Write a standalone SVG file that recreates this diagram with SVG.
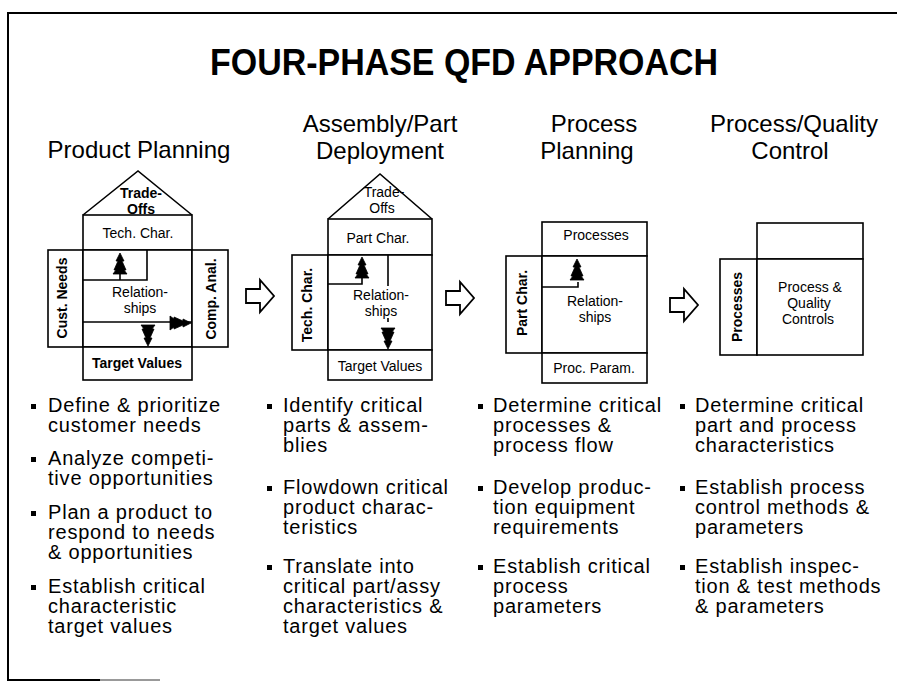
<svg xmlns="http://www.w3.org/2000/svg" width="897" height="685" viewBox="0 0 897 685">
<style>
.ln{fill:none;stroke:#000;stroke-width:1.6}
.bx{fill:#fff;stroke:#000;stroke-width:1.6}
.ar{fill:#000;stroke:#000;stroke-width:0.8;stroke-linejoin:miter}
.ha{fill:#fff;stroke:#000;stroke-width:1.8;stroke-linejoin:miter}
.lb{font-family:"Liberation Sans",Arial,sans-serif;font-size:14px;fill:#000;text-anchor:middle}
.lbb{font-family:"Liberation Sans",Arial,sans-serif;font-size:14px;font-weight:bold;fill:#000;text-anchor:middle}
.hd{font-family:"Liberation Sans",Arial,sans-serif;font-size:24px;fill:#000;text-anchor:middle}
.tt{font-family:"Liberation Sans",Arial,sans-serif;font-size:36px;font-weight:bold;fill:#000}
.bu{font-family:"Liberation Sans",Arial,sans-serif;font-size:20px;letter-spacing:0.8px;fill:#000}
</style>
<defs>
<path id="up" d="M0,0 L-4,8 L-2,8 L-6,17 L-4,17 L-7,21 L7,21 L4,17 L6,17 L2,8 L4,8 Z"/>
<path id="hollow" d="M0,-7 L14,-7 L14,-16 L28,0 L14,16 L14,7 L0,7 Z"/>
</defs>
<rect width="897" height="685" fill="#fff"/>
<g id="frame">
<line x1="7" y1="13" x2="897" y2="13" stroke="#000" stroke-width="2"/>
<line x1="8" y1="13" x2="8" y2="681" stroke="#000" stroke-width="2"/>
<line x1="8" y1="680" x2="100" y2="680" stroke="#000" stroke-width="2"/>
<line x1="100" y1="680" x2="160" y2="680" stroke="#999" stroke-width="2"/>
</g>
<g id="title"><text class="tt" x="210" y="75" textLength="508" lengthAdjust="spacingAndGlyphs">FOUR-PHASE QFD APPROACH</text></g>
<g id="headers">
<text class="hd" x="139" y="158">Product Planning</text>
<text class="hd" x="380" y="132">Assembly/Part</text>
<text class="hd" x="380" y="159">Deployment</text>
<text class="hd" x="594" y="132">Process</text>
<text class="hd" x="587" y="159">Planning</text>
<text class="hd" x="794" y="132">Process/Quality</text>
<text class="hd" x="790" y="159">Control</text>
</g>
<g id="house1">
<polyline class="ln" points="83,215 138,171 192,215"/>
<rect class="bx" x="83" y="215" width="109" height="35"/>
<rect class="bx" x="48" y="250" width="35" height="97"/>
<rect class="bx" x="83" y="250" width="109" height="97"/>
<rect class="bx" x="192" y="250" width="36" height="97"/>
<rect class="bx" x="83" y="347" width="109" height="33"/>
<line class="ln" x1="83" y1="322" x2="192" y2="322"/>
<polyline class="ln" points="83,280 147,280 147,250"/>
<line class="ln" x1="120" y1="270" x2="120" y2="280"/>
<use href="#up" class="ar" transform="translate(120,253)"/>
<use href="#up" class="ar" transform="translate(148,346) rotate(180)"/>
<use href="#up" class="ar" transform="translate(191,323) rotate(90)"/>
<text class="lbb" x="141" y="198">Trade-</text>
<text class="lbb" x="141" y="214">Offs</text>
<text class="lb" x="138" y="238">Tech. Char.</text>
<text class="lb" x="140" y="297">Relation-</text>
<text class="lb" x="140" y="313">ships</text>
<text class="lbb" x="137" y="368">Target Values</text>
<text class="lbb" transform="translate(67,298) rotate(-90)">Cust. Needs</text>
<text class="lbb" transform="translate(216,299) rotate(-90)">Comp. Anal.</text>
</g>
<g id="house2">
<polyline class="ln" points="328,219 380,174 432,219"/>
<rect class="bx" x="328" y="219" width="104" height="36"/>
<rect class="bx" x="292" y="255" width="36" height="95"/>
<rect class="bx" x="328" y="255" width="104" height="95"/>
<rect class="bx" x="328" y="350" width="104" height="30"/>
<line class="ln" x1="388" y1="255" x2="388" y2="286"/>
<line class="ln" x1="388" y1="318" x2="388" y2="322"/>
<polyline class="ln" points="328,284 362,284 362,276"/>
<use href="#up" class="ar" transform="translate(362,257)"/>
<use href="#up" class="ar" transform="translate(388,349) rotate(180)"/>
<text class="lb" x="384" y="197">Trade-</text>
<text class="lb" x="382" y="213">Offs</text>
<text class="lb" x="378" y="243">Part Char.</text>
<text class="lb" x="381" y="300">Relation-</text>
<text class="lb" x="381" y="316">ships</text>
<text class="lb" x="380" y="371">Target Values</text>
<text class="lbb" transform="translate(312,305) rotate(-90)">Tech. Char.</text>
</g>
<g id="house3">
<rect class="bx" x="542" y="222" width="105" height="34"/>
<rect class="bx" x="506" y="256" width="36" height="97"/>
<rect class="bx" x="542" y="256" width="105" height="97"/>
<rect class="bx" x="542" y="353" width="105" height="30"/>
<polyline class="ln" points="542,287 578,287 578,282"/>
<use href="#up" class="ar" transform="translate(577,259)"/>
<text class="lb" x="596" y="240">Processes</text>
<text class="lb" x="595" y="306">Relation-</text>
<text class="lb" x="595" y="322">ships</text>
<text class="lb" x="594" y="373">Proc. Param.</text>
<text class="lbb" transform="translate(527,303) rotate(-90)">Part Char.</text>
</g>
<g id="house4">
<rect class="bx" x="757" y="223" width="106" height="36"/>
<rect class="bx" x="720" y="259" width="37" height="96"/>
<rect class="bx" x="757" y="259" width="106" height="96"/>
<text class="lb" x="810" y="292">Process &amp;</text>
<text class="lb" x="809" y="308">Quality</text>
<text class="lb" x="808" y="324">Controls</text>
<text class="lbb" transform="translate(742,307) rotate(-90)">Processes</text>
</g>
<g id="connectors">
<use href="#hollow" class="ha" transform="translate(246,296)"/>
<use href="#hollow" class="ha" transform="translate(446,298)"/>
<use href="#hollow" class="ha" transform="translate(670,305)"/>
</g>
<g id="bullets" fill="#000">
<rect x="31" y="404" width="5" height="5"/><rect x="31" y="457" width="5" height="5"/><rect x="31" y="511" width="5" height="5"/><rect x="31" y="585" width="5" height="5"/>
<rect x="267" y="404" width="5" height="5"/><rect x="267" y="486" width="5" height="5"/><rect x="267" y="565" width="5" height="5"/>
<rect x="478" y="404" width="5" height="5"/><rect x="478" y="486" width="5" height="5"/><rect x="478" y="565" width="5" height="5"/>
<rect x="680" y="404" width="5" height="5"/><rect x="680" y="486" width="5" height="5"/><rect x="680" y="565" width="5" height="5"/>
</g>
<g id="col1">
<text class="bu" x="48" y="412">Define &amp; prioritize</text>
<text class="bu" x="48" y="432">customer needs</text>
<text class="bu" x="48" y="465">Analyze competi-</text>
<text class="bu" x="48" y="485">tive opportunities</text>
<text class="bu" x="48" y="519">Plan a product to</text>
<text class="bu" x="48" y="539">respond to needs</text>
<text class="bu" x="48" y="559">&amp; opportunities</text>
<text class="bu" x="48" y="593">Establish critical</text>
<text class="bu" x="48" y="613">characteristic</text>
<text class="bu" x="48" y="633">target values</text>
</g>
<g id="col2">
<text class="bu" x="283" y="412">Identify critical</text>
<text class="bu" x="283" y="432">parts &amp; assem-</text>
<text class="bu" x="283" y="452">blies</text>
<text class="bu" x="283" y="494">Flowdown critical</text>
<text class="bu" x="283" y="514">product charac-</text>
<text class="bu" x="283" y="534">teristics</text>
<text class="bu" x="283" y="573">Translate into</text>
<text class="bu" x="283" y="593">critical part/assy</text>
<text class="bu" x="283" y="613">characteristics &amp;</text>
<text class="bu" x="283" y="633">target values</text>
</g>
<g id="col3">
<text class="bu" x="493" y="412">Determine critical</text>
<text class="bu" x="493" y="432">processes &amp;</text>
<text class="bu" x="493" y="452">process flow</text>
<text class="bu" x="493" y="494">Develop produc-</text>
<text class="bu" x="493" y="514">tion equipment</text>
<text class="bu" x="493" y="534">requirements</text>
<text class="bu" x="493" y="573">Establish critical</text>
<text class="bu" x="493" y="593">process</text>
<text class="bu" x="493" y="613">parameters</text>
</g>
<g id="col4">
<text class="bu" x="695" y="412">Determine critical</text>
<text class="bu" x="695" y="432">part and process</text>
<text class="bu" x="695" y="452">characteristics</text>
<text class="bu" x="695" y="494">Establish process</text>
<text class="bu" x="695" y="514">control methods &amp;</text>
<text class="bu" x="695" y="534">parameters</text>
<text class="bu" x="695" y="573">Establish inspec-</text>
<text class="bu" x="695" y="593">tion &amp; test methods</text>
<text class="bu" x="695" y="613">&amp; parameters</text>
</g>
</svg>
